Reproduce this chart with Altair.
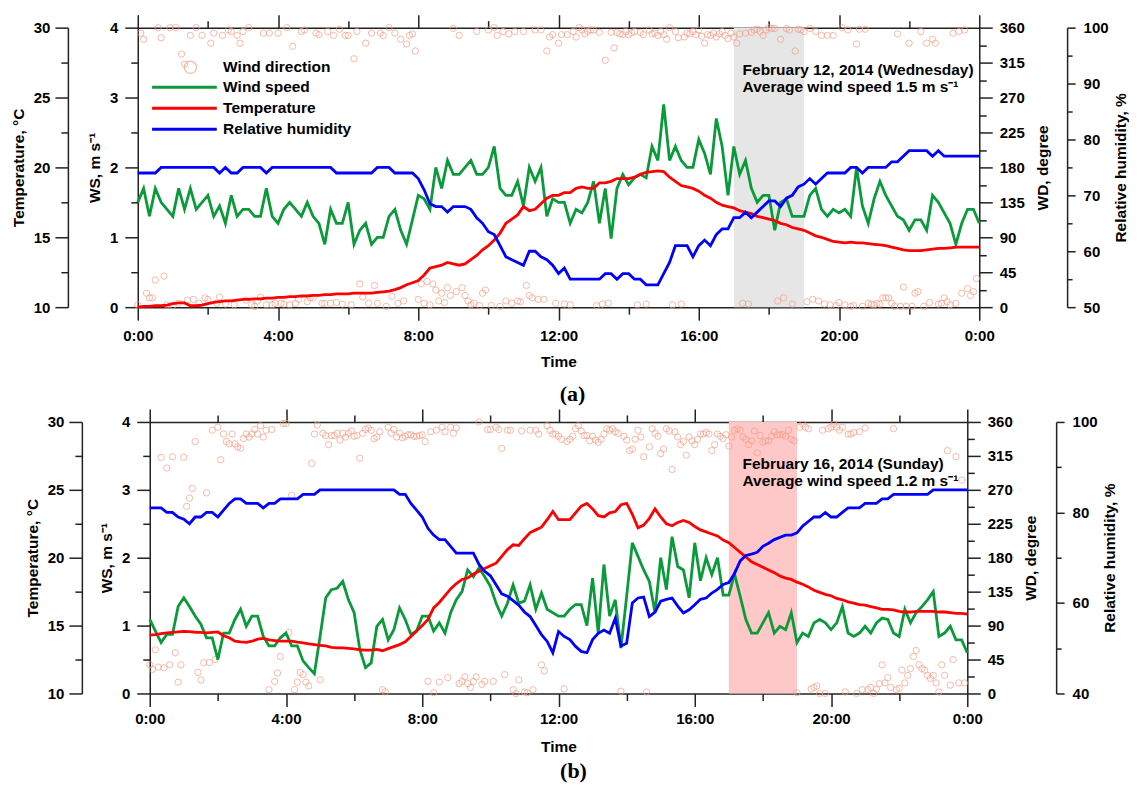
import altair as alt
import pandas as pd

# ---------------- Panel (a): February 12, 2014 (10-min lines, 5-min wind direction) --------------
ws_a = [1.5, 1.7, 1.3, 1.7, 1.5, 1.4, 1.3, 1.7, 1.4, 1.7,
        1.4, 1.5, 1.6, 1.3, 1.45, 1.2, 1.6, 1.3, 1.4, 1.4,
        1.3, 1.3, 1.7, 1.3, 1.2, 1.4, 1.5, 1.4, 1.3, 1.5,
        1.3, 1.2, 0.9, 1.4, 1.2, 1.2, 1.5, 0.9, 1.1, 1.2,
        0.9, 1.0, 1.0, 1.3, 1.4, 1.1, 0.9, 1.25, 1.6, 1.55,
        1.4, 2.0, 1.7, 2.1, 1.9, 1.9, 2.0, 2.1, 1.9, 1.9,
        2.0, 2.3, 1.7, 1.6, 1.6, 1.8, 1.45, 2.0, 1.8, 2.0,
        1.3, 1.55, 1.5, 1.5, 1.2, 1.4, 1.35, 1.5, 1.8, 1.2,
        1.7, 0.98, 1.7, 1.9, 1.75, 1.85, 1.9, 1.85, 2.3, 2.1,
        2.9, 2.1, 2.3, 2.1, 2.0, 2.0, 2.4, 2.2, 1.9, 2.7,
        2.3, 1.6, 2.3, 1.9, 2.1, 1.7, 1.5, 1.6, 1.6, 1.1,
        1.5, 1.55, 1.3, 1.3, 1.3, 1.6, 1.7, 1.4, 1.3, 1.4,
        1.35, 1.4, 1.3, 2.0, 1.45, 1.2, 1.55, 1.8, 1.6, 1.45,
        1.3, 1.25, 1.1, 1.25, 1.25, 1.1, 1.6, 1.5, 1.35, 1.2,
        0.9, 1.2, 1.4, 1.4, 1.2]

temp_a = [10.0, 10.05, 10.05, 10.1, 10.1, 10.15, 10.25, 10.3, 10.3, 10.1,
          10.1, 10.15, 10.25, 10.35, 10.4, 10.45, 10.45, 10.5, 10.55, 10.55,
          10.6, 10.6, 10.65, 10.65, 10.7, 10.7, 10.75, 10.75, 10.8, 10.8,
          10.85, 10.85, 10.9, 10.9, 10.95, 10.95, 10.95, 11.0, 11.0, 11.0,
          11.0, 11.05, 11.1, 11.15, 11.25, 11.4, 11.6, 11.75, 11.9, 12.3,
          12.8, 12.9, 13.0, 13.2, 13.1, 13.0, 13.1, 13.4, 13.7, 14.1,
          14.4, 14.8, 15.3, 16.0, 16.3, 16.6, 17.2, 16.9, 17.0, 17.4,
          17.8, 18.0, 18.0, 18.2, 18.2, 18.5, 18.6, 18.5, 18.5, 18.9,
          18.9, 19.0, 19.2, 19.2, 19.2, 19.3, 19.5, 19.65, 19.7, 19.75,
          19.7, 19.3, 19.0, 18.7, 18.6, 18.5, 18.3, 18.0, 17.8, 17.5,
          17.3, 17.2, 17.1, 16.9, 16.8, 16.7, 16.5, 16.4, 16.3, 16.2,
          16.0, 15.9, 15.7, 15.6, 15.5, 15.3, 15.1, 15.0, 14.85, 14.7,
          14.65, 14.6, 14.65, 14.6, 14.6, 14.55, 14.5, 14.45, 14.4, 14.3,
          14.2, 14.1, 14.05, 14.05, 14.05, 14.1, 14.15, 14.2, 14.2, 14.25,
          14.3, 14.3, 14.3, 14.3, 14.3]

rh_a = [74, 74, 74, 74, 75, 75, 75, 75, 75, 75,
        75, 75, 75, 75, 74, 75, 74, 74, 75, 75,
        75, 75, 74, 75, 75, 75, 75, 75, 75, 75,
        75, 75, 75, 75, 74, 74, 74, 74, 74, 74,
        74, 75, 75, 75, 74, 74, 74, 74, 73, 71,
        68.5, 68, 68, 67, 68, 68, 68, 67.5, 66, 65,
        63.5, 63, 61, 59, 58.5, 58, 57.5, 60, 60, 59,
        58.5, 57.5, 56, 57, 55, 55, 55, 55, 55, 55,
        56, 56, 55, 56, 56, 55, 55, 54, 54, 54,
        56, 58, 61, 61, 61, 59, 61, 62, 61, 63,
        64, 64, 66, 66, 67, 66, 67, 68, 69, 69,
        68, 69.5, 70, 71.5, 72, 73, 72, 73, 74, 74,
        74, 74, 75, 75, 74, 75, 75, 75, 75, 76,
        76, 77, 78, 78, 78, 78, 77, 78, 77, 77,
        77, 77, 77, 77, 77]

wd_a = [3, 353, 345, 18, 12, 12, 35, 360, 347, 40, 3, 360,
        2, 360, 5, 326, 313, 9, 350, 10, 360, 5, 350, 12,
        10, 340, 353, 5, 13, 350, 4, 357, 355, 3, 350, 340,
        355, 9, 360, 3, 1, 8, 13, 353, 3, 353, 3, 5,
        353, 5, 4, 360, 3, 336, 5, 10, 355, 357, 7, 12,
        12, 353, 351, 5, 5, 355, 5, 350, 6, 358, 4, 350,
        350, 3, 320, 355, 30, 13, 340, 5, 353, 28, 5, 353,
        350, 1, 360, 14, 353, 5, 345, 8, 339, 350, 352, 330,
        10, 30, 5, 33, 3, 30, 22, 8, 18, 6, 25, 15,
        359, 20, 350, 25, 15, 8, 3, 5, 355, 2, 18, 22,
        357, 2, 360, 350, 1, 355, 8, 352, 5, 355, 8, 7,
        355, 28, 15, 12, 357, 10, 357, 10, 330, 348, 351, 5,
        340, 351, 4, 351, 3, 355, 348, 360, 357, 352, 355, 357,
        357, 2, 354, 4, 318, 5, 354, 334, 354, 352, 351, 355,
        351, 353, 355, 3, 354, 351, 4, 357, 352, 353, 350, 355,
        351, 345, 360, 3, 355, 347, 4, 348, 353, 352, 355, 351,
        357, 349, 340, 351, 350, 353, 348, 352, 355, 350, 346, 353,
        348, 340, 352, 5, 353, 4, 354, 357, 358, 355, 350, 357,
        360, 359, 359, 8, 345, 12, 359, 357, 4, 330, 358, 357,
        355, 7, 359, 10, 355, 8, 350, 4, 350, 3, 350, 2,
        6, 360, 3, 357, 1, 2, 339, 358, 1, 358, 5, 4,
        3, 5, 4, 12, 12, 12, 5, 1, 352, 1, 26, 1,
        340, 1, 18, 20, 355, 1, 340, 6, 345, 340, 4, 5,
        12, 7, 3, 353, 5, 355, 18, 357, 24, 15, 20, 37]

# ---------------- Panel (b): February 16, 2014 ----------------
ws_b = [1.09, 0.92, 0.75, 0.87, 0.87, 1.28, 1.41, 1.28, 1.14, 1.02,
        0.82, 0.82, 0.50, 0.89, 0.89, 1.09, 1.24, 0.99, 1.14, 1.14,
        0.84, 0.70, 0.70, 0.82, 0.89, 0.70, 0.70, 0.48, 0.38, 0.29,
        0.84, 1.41, 1.53, 1.55, 1.65, 1.38, 1.19, 0.65, 0.38, 0.45,
        0.99, 1.09, 0.79, 0.94, 1.26, 1.09, 0.87, 0.92, 1.14, 1.14,
        0.92, 1.04, 0.89, 1.19, 1.38, 1.50, 1.82, 1.72, 1.85, 1.72,
        1.58, 1.33, 1.14, 1.33, 1.60, 1.33, 1.36, 1.60, 1.24, 1.48,
        1.24, 1.19, 1.14, 1.14, 1.24, 1.31, 1.31, 1.0, 1.70, 0.89,
        1.90, 1.14, 1.38, 0.67, 1.43, 2.22, 2.02, 1.82, 1.65, 1.19,
        2.0, 1.53, 2.31, 1.87, 1.82, 1.41, 2.22, 1.66, 2.0, 1.75,
        2.0, 1.45, 1.45, 1.76, 1.43, 1.09, 0.89, 0.89, 1.04, 1.19,
        0.89, 0.99, 0.94, 1.19, 0.75, 0.89, 0.84, 1.04, 1.09, 1.04,
        0.94, 1.04, 1.28, 0.89, 0.84, 0.89, 0.99, 0.89, 1.04, 1.11,
        1.09, 0.89, 0.84, 1.24, 1.04, 1.19, 1.28, 1.38, 1.50, 0.84,
        0.89, 0.99, 0.79, 0.79, 0.60]

temp_b = [14.3, 14.34, 14.4, 14.46, 14.5, 14.53, 14.58, 14.56, 14.51, 14.5,
          14.46, 14.5, 14.53, 14.25, 14.1, 13.85, 13.8, 13.77, 13.85, 14.0,
          14.05, 13.95, 13.9, 13.85, 13.85, 13.85, 13.78, 13.72, 13.65, 13.6,
          13.55, 13.5, 13.4, 13.36, 13.36, 13.32, 13.28, 13.22, 13.19, 13.2,
          13.24, 13.15, 13.3, 13.45, 13.6, 13.8, 14.2, 14.6, 15.0, 15.45,
          16.3, 16.7, 17.2, 17.7, 18.1, 18.4, 18.5, 18.8, 19.0, 19.2,
          19.4, 19.6, 20.1, 20.6, 20.95, 20.9, 21.4, 21.85, 22.05, 22.25,
          22.8, 23.4, 22.8, 22.8, 22.8, 23.3, 23.8, 24.0, 23.6, 23.1,
          23.0, 23.3, 23.4, 23.9, 24.0, 23.2, 22.2, 22.4, 22.9, 23.6,
          23.0, 22.5, 22.35, 22.6, 22.75, 22.6, 22.3, 22.05, 21.9, 21.75,
          21.6, 21.3, 21.1, 20.75, 20.4, 20.05, 19.7, 19.5, 19.3, 19.1,
          18.9, 18.65, 18.5, 18.4, 18.2, 18.05, 17.85, 17.6, 17.45, 17.3,
          17.2, 17.0, 16.9, 16.75, 16.65, 16.55, 16.5, 16.4, 16.3, 16.2,
          16.2, 16.15, 16.05, 16.0, 16.0, 16.05, 16.05, 16.05, 16.05, 16.0,
          16.0, 15.95, 15.9, 15.9, 15.85]

rh_b = [81, 81, 81, 80, 80, 79, 78.5, 77.5, 79, 79,
        80, 80, 79, 80.5, 82, 83, 83, 82, 82, 82,
        81, 82, 82, 83, 83, 83, 83, 84, 84, 84,
        85, 85, 85, 85, 85, 85, 85, 85, 85, 85,
        85, 85, 85, 85, 84, 84, 82, 80.5, 79, 76.5,
        75, 74, 74, 72.5, 71, 71, 71, 71, 68.5, 67,
        66, 64, 62, 61.5, 60.5, 59.5, 58, 57, 55, 53,
        51.5, 49, 53.7, 52.6, 51.9, 50.4, 49.3, 49, 51.9, 53.3,
        54, 53.3, 56.6, 50.5, 51.1, 60, 61.1, 61.3, 57, 58,
        60.4, 60.8, 61.1, 59.3, 57.8, 58.5, 59.6, 60.8, 61.1, 62.2,
        63, 64.1, 64.5, 66.5, 69.3, 70.5, 70.8, 71.2, 72.5, 73.2,
        74, 74.5, 75, 75, 75.5, 77, 78, 79, 79, 80,
        79, 79, 80, 81, 81, 81, 82, 82, 82, 83,
        83, 84, 84, 84, 84, 84, 84, 84, 85, 85,
        85, 85, 85, 85, 85]

wd_b = [38, 32, 58, 35, 313, 34, 299, 38, 314, 54, 15, 38,
        313, 248, 259, 272, 334, 28, 18, 41, 266, 41, 349, 45,
        353, 310, 344, 334, 331, 344, 331, 327, 325, 338, 344, 340,
        344, 350, 344, 355, 340, 349, 5, 350, 16, 27, 49, 358,
        358, 81, 263, 5, 15, 28, 25, 15, 10, 305, 344, 356,
        18, 345, 342, 330, 342, 342, 345, 336, 345, 340, 345, 348,
        341, 342, 312, 345, 350, 352, 349, 338, 340, 347, 5, 2,
        353, 345, 350, 340, 345, 339, 341, 343, 343, 341, 341, 342,
        343, 334, 16, 347, 1, 349, 15, 353, 347, 21, 353, 345,
        352, 13, 16, 22, 13, 8, 16, 22, 360, 12, 16, 350,
        350, 16, 353, 350, 325, 25, 349, 349, 5, 0, 18, 348,
        2, 1, 349, 5, 349, 344, 38, 30, 355, 349, 344, 344,
        341, 337, 6, 334, 337, 341, 351, 355, 348, 342, 342, 335,
        341, 336, 333, 337, 344, 351, 349, 351, 347, 345, 3, 341,
        336, 322, 324, 337, 349, 340, 314, 2, 327, 351, 345, 341,
        318, 324, 351, 348, 297, 347, 340, 330, 334, 316, 340, 335,
        330, 337, 344, 344, 346, 344, 322, 330, 344, 341, 338, 343,
        328, 340, 349, 351, 349, 340, 337, 330, 335, 348, 319, 342,
        333, 335, 335, 341, 347, 343, 343, 343, 341, 349, 337, 335,
        1, 353, 357, 353, 351, 6, 8, 10, 0, 349, 0, 351,
        353, 357, 353, 349, 353, 2, 344, 344, 346, 0, 347, 5,
        352, 5, 8, 0, 6, 13, 38, 14, 21, 8, 351, 5,
        7, 31, 14, 24, 33, 49, 57, 38, 33, 31, 24, 20,
        24, 14, 2, 38, 24, 322, 11, 45, 314, 14, 283, 14]

x_major = [0, 4, 8, 12, 16, 20, 24]
x_minor = [2, 6, 10, 14, 18, 22]
ws_major = [0, 1, 2, 3, 4]
ws_minor = [0.5, 1.5, 2.5, 3.5]
t_major = [10, 15, 20, 25, 30]
t_minor = [12.5, 17.5, 22.5, 27.5]
wd_major = [0, 45, 90, 135, 180, 225, 270, 315, 360]
wd_minor = [22.5, 67.5, 112.5, 157.5, 202.5, 247.5, 292.5, 337.5]
series_names = ["Wind speed", "Temperature", "Relative humidity"]
series_colors = ["#0a9a3a", "#ff0000", "#0000ff"]
WD_COLOR = "#f59d86"
FONT = "Liberation Sans"
TXT = 15.5


def line_df(vals, name):
    return pd.DataFrame({"t": [i / 6 for i in range(len(vals))], "v": vals, "series": name})


def panel(ws, temp, rh, wd, shade_color, W, H, xrange_start, temp_off, rh_off, rh_dom, rh_major,
          rh_minor, note, note_t, note_y, caption, cap_offset, cap_dx, lab_pad, time_pad, legend):
    if xrange_start:
        xs = alt.Scale(domain=[0, 24], nice=False, zero=False, range=[xrange_start, W])
    else:
        xs = alt.Scale(domain=[0, 24], nice=False, zero=False)
    left_off = -xrange_start
    df_ws = line_df(ws, series_names[0])
    df_t = line_df(temp, series_names[1])
    df_rh = line_df(rh, series_names[2])
    df_wd = pd.DataFrame({"t": [i / 12 for i in range(len(wd))], "v": wd, "lab": "Wind direction"})
    df_shade = pd.DataFrame({"s": [17.0], "e": [19.0], "lo": [0.0], "hi": [4.0]})
    df_note = pd.DataFrame({"t": [note_t], "y": [note_y], "txt": [note]})

    ax_bottom = alt.Axis(orient="bottom", values=x_major, tickSize=13, labelPadding=lab_pad,
                         labelExpr="(floor(datum.value) % 24) + ':00'", titlePadding=time_pad,
                         titleX=(xrange_start + W) / 2)
    ax_bottom_minor = alt.Axis(orient="bottom", values=x_minor, tickSize=7, labels=False, domain=False)
    ax_top = alt.Axis(orient="top", values=x_major, tickSize=13, labels=False)
    ax_top_minor = alt.Axis(orient="top", values=x_minor, tickSize=7, labels=False, domain=False)

    def X(field, axis, title=None):
        if axis is None:
            return alt.X(field, type="quantitative", scale=xs, axis=None)
        return alt.X(field, type="quantitative", scale=xs, axis=axis, title=title)

    shade = alt.Chart(df_shade).mark_rect(color=shade_color).encode(
        x=X("s", None), x2="e",
        y=alt.Y("lo:Q", scale=alt.Scale(domain=[0, 4]), axis=None), y2="hi")

    wd_enc = dict(
        x=X("t", ax_bottom, "Time"),
        y=alt.Y("v:Q", scale=alt.Scale(domain=[0, 360], nice=False), title="WD, degree",
                axis=alt.Axis(orient="right", values=wd_major, tickSize=13, labelPadding=7,
                              titlePadding=11, titleAngle=270, titleBaseline="top")),
    )
    if legend:
        wd_enc["shape"] = alt.Shape("lab:N", scale=alt.Scale(domain=["Wind direction"], range=["circle"]),
                                    legend=alt.Legend(orient="none", legendX=45, legendY=32, title=None,
                                                      symbolSize=150, symbolStrokeColor=WD_COLOR,
                                                      symbolFillColor="transparent", symbolStrokeWidth=1.2,
                                                      labelOffset=25, padding=0, labelFont=FONT,
                                                      labelFontSize=TXT, labelFontWeight="bold",
                                                      labelColor="black"))
    wdl = alt.Chart(df_wd).mark_point(shape="circle", filled=False, size=40, strokeWidth=1,
                                      color=WD_COLOR).encode(**wd_enc)
    wd_min = alt.Chart(df_wd).mark_point(opacity=0).encode(
        x=X("t", None),
        y=alt.Y("v:Q", scale=alt.Scale(domain=[0, 360], nice=False), title=None,
                axis=alt.Axis(orient="right", values=wd_minor, tickSize=7, labels=False, domain=False)))

    cscale = alt.Scale(domain=series_names, range=series_colors)
    leg_lines = alt.Legend(orient="none", legendX=39, legendY=52, title=None,
                           symbolType="M-5.4,0L5.4,0", symbolSize=144, symbolStrokeWidth=3,
                           labelOffset=31, padding=0, rowPadding=4, labelFont=FONT,
                           labelFontSize=TXT, labelFontWeight="bold", labelColor="black")

    def line(df, color_idx, xaxis, yscale, yaxis, ytitle):
        enc = dict(x=X("t", xaxis),
                   y=alt.Y("v:Q", scale=yscale, axis=yaxis, title=ytitle))
        if legend:
            enc["color"] = alt.Color("series:N", scale=cscale, legend=leg_lines)
            mk = alt.Chart(df).mark_line(strokeWidth=2.8)
        else:
            mk = alt.Chart(df).mark_line(strokeWidth=2.8, color=series_colors[color_idx])
        return mk.encode(**enc)

    def minor(df, xaxis, yscale, yaxis):
        return alt.Chart(df).mark_point(opacity=0).encode(
            x=X("t", xaxis), y=alt.Y("v:Q", scale=yscale, axis=yaxis, title=None))

    ws_scale = alt.Scale(domain=[0, 4], nice=False)
    t_scale = alt.Scale(domain=[10, 30], nice=False, zero=False)
    rh_scale = alt.Scale(domain=rh_dom, nice=False, zero=False)

    wsl = line(df_ws, 0, ax_top, ws_scale,
               alt.Axis(orient="left", offset=left_off, values=ws_major, tickSize=13, labelPadding=7,
                        titlePadding=7),
               "WS, m s\u207b\u00b9")
    ws_min = minor(df_ws, ax_bottom_minor, ws_scale,
                   alt.Axis(orient="left", offset=left_off, values=ws_minor, tickSize=7, labels=False,
                            domain=False))
    tl = line(df_t, 1, None, t_scale,
              alt.Axis(orient="left", offset=temp_off, values=t_major, tickSize=13, labelPadding=5,
                       titlePadding=7),
              "Temperature, \u00b0C")
    t_min = minor(df_t, ax_top_minor, t_scale,
                  alt.Axis(orient="left", offset=temp_off, values=t_minor, tickSize=7, labels=False,
                           domain=False))
    rhl = line(df_rh, 2, None, rh_scale,
               alt.Axis(orient="right", offset=rh_off, values=rh_major, tickSize=8, labelPadding=8,
                        titlePadding=5, titleAngle=270, titleBaseline="top"),
               "Relative humidity, %")
    rh_min = minor(df_rh, None, rh_scale,
                   alt.Axis(orient="right", offset=rh_off, values=rh_minor, tickSize=5, labels=False,
                            domain=False))

    txt = alt.Chart(df_note).mark_text(align="left", baseline="middle", font=FONT, fontSize=TXT,
                                       fontWeight="bold", lineBreak="\n", lineHeight=17,
                                       color="black").encode(
        x=X("t", None),
        y=alt.Y("y:Q", scale=alt.Scale(domain=[0, 4]), axis=None),
        text="txt:N")

    ch = alt.layer(shade, wdl, wd_min, wsl, ws_min, tl, t_min, rhl, rh_min, txt).resolve_scale(
        y="independent").resolve_axis(x="independent", y="independent").properties(
        width=W, height=H,
        title=alt.TitleParams(text=caption, orient="bottom", font="Liberation Serif", fontSize=22,
                              fontWeight="bold", color="black", offset=cap_offset, anchor="middle",
                              dx=cap_dx))
    return ch


pa = panel(ws_a, temp_a, rh_a, wd_a, "#e6e6e6", 843, 280, 0, 70, 88, [50, 100],
           [50, 60, 70, 80, 90, 100], [55, 65, 75, 85, 95],
           "February 12, 2014 (Wednesday)\nAverage wind speed 1.5 m s\u207b\u00b9", 17.25, 3.4,
           "(a)", 15, 14, 8, 11, True)
pb = panel(ws_b, temp_b, rh_b, wd_b, "#ffc8c8", 831, 272, 12, 56, 89, [40, 100],
           [40, 60, 80, 100], [50, 70, 90],
           "February 16, 2014 (Sunday)\nAverage wind speed 1.2 m s\u207b\u00b9", 17.4, 3.38,
           "(b)", 6, 21, 5, 13, False)

chart = alt.vconcat(pa, pb, spacing=2).resolve_scale(
    color="independent", shape="independent").properties(
    padding={"left": 3, "top": 5, "right": 0, "bottom": 0}
).configure_view(strokeWidth=0).configure_axis(
    labelFont=FONT, labelFontSize=15, labelFontWeight="bold", labelColor="black",
    titleFont=FONT, titleFontSize=15.5, titleFontWeight="bold", titleColor="black",
    domainColor="#222", domainWidth=1.5, tickColor="#222", tickWidth=1.5, grid=False,
    labelFlush=False
)

chart.save("out.html", embed_options={"renderer": "svg", "actions": False})
